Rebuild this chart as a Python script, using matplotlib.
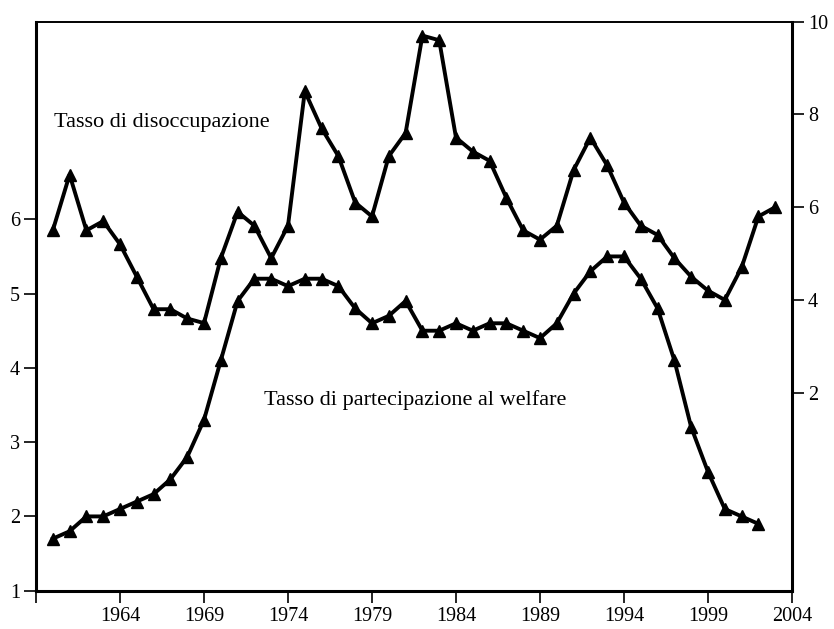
import matplotlib
matplotlib.use("Agg")
import matplotlib.pyplot as plt

plt.rcParams['font.family'] = ['Liberation Serif', 'DejaVu Serif']

# unemployment rate (right axis), 1960-2003
years_u = list(range(1960, 2004))
unemp = [5.5, 6.7, 5.5, 5.7, 5.2, 4.5, 3.8, 3.8, 3.6, 3.5,
         4.9, 5.9, 5.6, 4.9, 5.6, 8.5, 7.7, 7.1, 6.1, 5.8,
         7.1, 7.6, 9.7, 9.6, 7.5, 7.2, 7.0, 6.2, 5.5, 5.3,
         5.6, 6.8, 7.5, 6.9, 6.1, 5.6, 5.4, 4.9, 4.5, 4.2,
         4.0, 4.7, 5.8, 6.0]

# welfare participation rate (left axis), 1960-2002
years_w = list(range(1960, 2003))
welfare = [1.7, 1.8, 2.0, 2.0, 2.1, 2.2, 2.3, 2.5, 2.8, 3.3,
           4.1, 4.9, 5.2, 5.2, 5.1, 5.2, 5.2, 5.1, 4.8, 4.6,
           4.7, 4.9, 4.5, 4.5, 4.6, 4.5, 4.6, 4.6, 4.5, 4.4,
           4.6, 5.0, 5.3, 5.5, 5.5, 5.2, 4.8, 4.1, 3.2, 2.6,
           2.1, 2.0, 1.9]

x_ticks = [1959, 1964, 1969, 1974, 1979, 1984, 1989, 1994, 1999, 2004]
x_labels = [''] + [str(y) for y in x_ticks[1:]]

fig = plt.figure(figsize=(8.34, 6.29), dpi=100)
ax = fig.add_axes([36 / 834, 38.3 / 629, 756 / 834, 569 / 629])
ax2 = ax.twinx()

style = dict(color='black', lw=2.8, marker='^', ms=8, mfc='black', mec='black')
ax.plot(years_w, welfare, **style)
ax2.plot(years_u, unemp, **style)

ax.set_xlim(1959, 2004)
ax.set_ylim(1, 8.66)
ax2.set_ylim(-2.27, 10)
ax.set_yticks([1, 2, 3, 4, 5, 6])
ax2.set_yticks([2, 4, 6, 8, 10])
ax.set_xticks(x_ticks)
ax.set_xticklabels(x_labels)

for a in (ax, ax2):
    a.tick_params(direction='out', length=8.5, width=1.2, labelsize=14.5, pad=3)
    for s in a.spines.values():
        s.set_linewidth(1.2)
ax.spines['left'].set_linewidth(2.2)
ax.spines['bottom'].set_linewidth(2.2)
ax2.spines['right'].set_linewidth(2.2)

ax.text(1960.1, 7.3, 'Tasso di disoccupazione', fontsize=16, va='center')
ax.text(1972.6, 3.56, 'Tasso di partecipazione al welfare', fontsize=16, va='center')

fig.savefig('out.png', dpi=100)
